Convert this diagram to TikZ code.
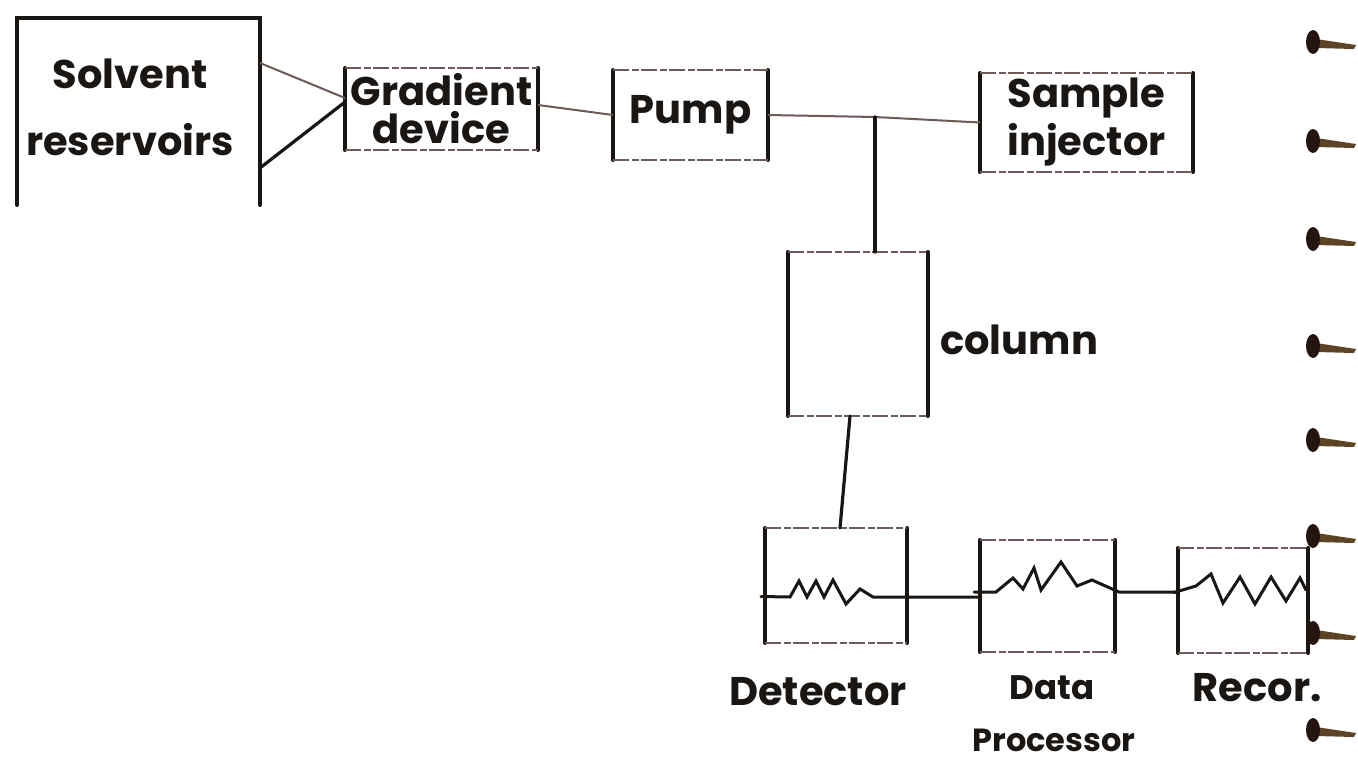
\documentclass[tikz,border=0pt]{standalone}
\usepackage{fontspec}
\setmainfont{Poppins}
\usetikzlibrary{calc}

\definecolor{inkc}{HTML}{1A1614}
\definecolor{faintc}{HTML}{6B5A55}
\definecolor{ringc}{HTML}{24160F}
\definecolor{tailc}{HTML}{5C4326}
\definecolor{paperc}{HTML}{F1E6CC}

\tikzset{
  ink/.style={line width=4pt, color=inkc, line cap=round},
  faint/.style={line width=2.2pt, color=faintc, dash pattern=on 16pt off 3pt on 7pt off 2pt},
  wire/.style={line width=3.2pt, color=inkc, line cap=round},
  thinwire/.style={line width=2pt, color=faintc},
  trace/.style={line width=3pt, color=inkc, line join=miter, line cap=round},
  frame/.style={draw=none, inner sep=0pt, outer sep=0pt, align=center,
                font=\fontsize{40}{40}\selectfont\bfseries, text=inkc},
  lbl/.style={inner sep=0pt, font=\fontsize{40}{40}\selectfont\bfseries, text=inkc, align=center},
}

% a hand-drawn block: heavy vertical sides, lighter broken top and bottom
\newcommand\handbox[1]{%
  \draw[ink] (#1.north west) -- (#1.south west);
  \draw[ink] (#1.north east) -- (#1.south east);
  \draw[faint] (#1.north west) -- (#1.north east);
  \draw[faint] (#1.south west) -- (#1.south east);
}

% one ring of the notebook binding
\newcommand\bindring[1]{%
  \fill[tailc] (1316,#1-4) -- (1356,#1+2) -- (1354,#1+6) -- (1316,#1+5) -- cycle;
  \fill[ringc] (1313,#1-1) ellipse [x radius=7, y radius=12];
}

\begin{document}
\begin{tikzpicture}[x=1pt, y=-1pt]
  \useasboundingbox (0,0) rectangle (1358,769);
  \fill[white] (0,0) rectangle (1358,769);
  % yellowed paper near the binding
  \shade[left color=white, middle color=paperc, right color=white] (1235,330) rectangle (1325,769);

  % blocks
  \node[frame, minimum width=243pt, minimum height=187pt] (solv) at (138.5,111.5) {};
  \node[lbl, font=\fontsize{40}{67}\selectfont\bfseries] (solvtxt) at (130,107) {Solvent\\reservoirs};

  \node[frame, minimum width=193pt, minimum height=82pt,
        font=\fontsize{40}{38}\selectfont\bfseries] (grad) at (441.5,109) {Gradient\\device};
  \node[frame, minimum width=155pt, minimum height=90pt] (pump) at (690.5,115) {Pump};
  \node[frame, minimum width=213pt, minimum height=99pt,
        font=\fontsize{40}{48}\selectfont\bfseries] (inj) at (1086.5,122.5) {Sample\\injector};
  \node[frame, minimum width=140pt, minimum height=164pt] (col) at (858,334) {};
  \node[lbl, anchor=west] (coltxt) at (940,340) {column};

  \node[frame, minimum width=142pt, minimum height=115pt] (det) at (836,585.5) {};
  \node[frame, minimum width=135pt, minimum height=112pt] (dp) at (1047.5,596) {};
  \node[frame, minimum width=130pt, minimum height=105pt] (rec) at (1243,600.5) {};

  \node[lbl] (dettxt) at (818,692) {Detector};
  \node[lbl, font=\fontsize{34}{34}\selectfont\bfseries] (dptxt) at (1052,688) {Data};
  \node[lbl, font=\fontsize{32}{32}\selectfont\bfseries] (dptxtb) at (1054,740) {Processor};
  \node[lbl] (rectxt) at (1257,688) {Recor.};

  % solvent reservoir: open at the bottom
  \draw[ink] (solv.south west) -- (solv.north west) -- (solv.north east) -- (solv.south east);

  \handbox{grad}
  \handbox{pump}
  \handbox{inj}
  \handbox{col}
  \handbox{det}
  \handbox{dp}
  \handbox{rec}

  % flow lines
  \draw[thinwire] ([yshift=-45pt]solv.north east) -- ([yshift=11pt]grad.west);
  \draw[wire] ([yshift=37pt]solv.south east) -- ([yshift=7pt]grad.west);
  \draw[thinwire] ([yshift=4pt]grad.east) -- (pump.west);
  \coordinate (j) at (875,117);
  \draw[thinwire] (pump.east) -- (j) -- (inj.west);
  \draw[wire] (j) -- (j |- col.north);
  \draw[wire] ([xshift=-8pt]col.south) -- ([xshift=4pt]det.north);

  % detector trace and signal line
  \draw[trace] ([xshift=-4pt,yshift=-11pt]det.west) -- (790,597) -- (799,581) -- (807,597) -- (816,581)
        -- (824,597) -- (833,580) -- (846,604) -- (860,589) -- (873,597) -- (dp.west |- 0,597);
  % data processor trace
  \draw[trace] ([xshift=-6pt,yshift=4pt]dp.west) -- (996,592) -- (1013,578) -- (1023,589) -- (1034,568)
        -- (1041,590) -- (1061,562) -- (1077,586) -- (1092,580) -- ([xshift=4pt,yshift=4pt]dp.east)
        -- (rec.west |- 0,592);
  % recorder trace
  \draw[trace] ([xshift=-4pt,yshift=8pt]rec.west) -- (1196,586) -- (1211,574) -- (1223,603)
        -- (1240,577) -- (1255,604) -- (1271,577) -- (1286,601) -- (1300,578) -- (1306,590);

  % notebook binding
  \foreach \yy in {43,142,240,347,441,537,634,731} {\bindring{\yy}}
\end{tikzpicture}
\end{document}
